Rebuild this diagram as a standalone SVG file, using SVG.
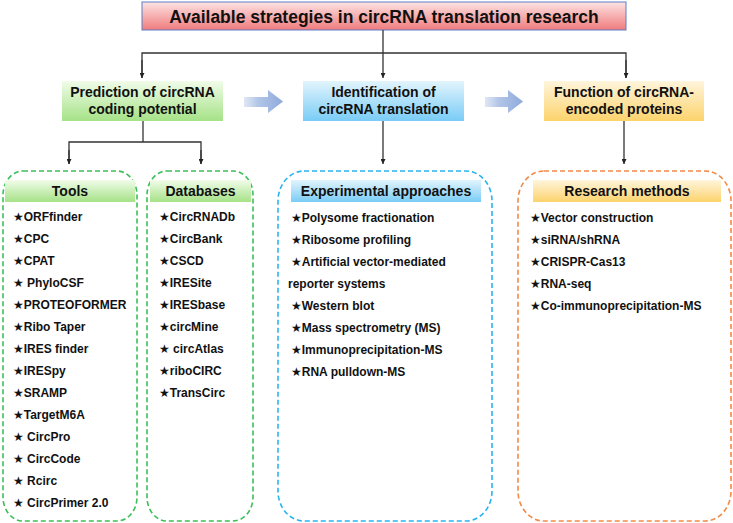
<svg xmlns="http://www.w3.org/2000/svg" width="733" height="523" viewBox="0 0 733 523">
<defs>
<linearGradient id="gTitle" x1="0" y1="0" x2="0" y2="1"><stop offset="0" stop-color="#fde3e3"/><stop offset="1" stop-color="#f07b7d"/></linearGradient>
<linearGradient id="gGreen" x1="0" y1="0" x2="0" y2="1"><stop offset="0" stop-color="#f1fce9"/><stop offset="1" stop-color="#a5e287"/></linearGradient>
<linearGradient id="gBlue" x1="0" y1="0" x2="0" y2="1"><stop offset="0" stop-color="#e2f4fd"/><stop offset="1" stop-color="#79ccf6"/></linearGradient>
<linearGradient id="gOrange" x1="0" y1="0" x2="0" y2="1"><stop offset="0" stop-color="#fff5dc"/><stop offset="1" stop-color="#fcd36c"/></linearGradient>
<linearGradient id="gArrow" x1="0" y1="0" x2="1" y2="0"><stop offset="0" stop-color="#c9d6ee" stop-opacity="0.6"/><stop offset="0.35" stop-color="#b3c6e8"/><stop offset="1" stop-color="#8eaadb"/></linearGradient>
<marker id="ah" viewBox="0 0 10 10" refX="10" refY="5" markerWidth="5" markerHeight="5" markerUnits="userSpaceOnUse" orient="auto"><path d="M0,0 L10,5 L0,10 z" fill="#222"/></marker>
</defs>
<style>
.t{font-family:"Liberation Sans",Arial,"DejaVu Sans",sans-serif;font-weight:bold;fill:#111}
.title{font-size:17.5px}
.mid{font-size:14px}
.hd{font-size:14px}
.it{font-size:12px}
.ln{stroke:#333;stroke-width:1.3;fill:none}
.dg{fill:none;stroke:#3cbf58;stroke-width:1.6;stroke-dasharray:5 3}
.db{fill:none;stroke:#2ab4ee;stroke-width:1.6;stroke-dasharray:5 3}
.do{fill:none;stroke:#f28a48;stroke-width:1.6;stroke-dasharray:5 3}
</style>

<g id="title">
<rect x="142" y="2" width="484" height="28" fill="url(#gTitle)" stroke="#5b7fc7" stroke-width="1"/>
<text class="t title" x="384" y="23" text-anchor="middle">Available strategies in circRNA translation research</text>
</g>

<g id="prediction">
<rect x="62" y="81" width="161" height="40" fill="url(#gGreen)"/>
<text class="t mid" x="142.5" y="97" text-anchor="middle">Prediction of circRNA</text>
<text class="t mid" x="142.5" y="114" text-anchor="middle">coding potential</text>
</g>

<g id="identification">
<rect x="303" y="81" width="161" height="40" fill="url(#gBlue)"/>
<text class="t mid" x="383.5" y="97" text-anchor="middle">Identification of</text>
<text class="t mid" x="383.5" y="114" text-anchor="middle">circRNA translation</text>
</g>

<g id="function">
<rect x="544" y="81" width="160" height="40" fill="url(#gOrange)"/>
<text class="t mid" x="624" y="97" text-anchor="middle">Function of circRNA-</text>
<text class="t mid" x="624" y="114" text-anchor="middle">encoded proteins</text>
</g>

<g id="flow-arrows">
<path d="M244,97 H268 V90 L283,101.5 L268,113 V107 H244 Z" fill="url(#gArrow)"/>
<path d="M485,97 H508 V90 L523,101.5 L508,113 V107 H485 Z" fill="url(#gArrow)"/>
</g>

<g id="tools">
<rect class="dg" x="3" y="171" width="134" height="350" rx="20" ry="24"/>
<rect x="5" y="180" width="130" height="22" fill="url(#gGreen)"/>
<text class="t hd" x="70" y="196" text-anchor="middle">Tools</text>
<text class="t it" x="13" y="221">★ORFfinder</text>
<text class="t it" x="13" y="243">★CPC</text>
<text class="t it" x="13" y="265">★CPAT</text>
<text class="t it" x="13" y="287">★ PhyloCSF</text>
<text class="t it" x="13" y="309">★PROTEOFORMER</text>
<text class="t it" x="13" y="331">★Ribo Taper</text>
<text class="t it" x="13" y="353">★IRES finder</text>
<text class="t it" x="13" y="375">★IRESpy</text>
<text class="t it" x="13" y="397">★SRAMP</text>
<text class="t it" x="13" y="419">★TargetM6A</text>
<text class="t it" x="13" y="441">★ CircPro</text>
<text class="t it" x="13" y="463">★ CircCode</text>
<text class="t it" x="13" y="485">★ Rcirc</text>
<text class="t it" x="13" y="507">★ CircPrimer 2.0</text>
</g>

<g id="databases">
<rect class="dg" x="147" y="171" width="106" height="350" rx="20" ry="24"/>
<rect x="150" y="180" width="101" height="22" fill="url(#gGreen)"/>
<text class="t hd" x="200.5" y="196" text-anchor="middle">Databases</text>
<text class="t it" x="159" y="221">★CircRNADb</text>
<text class="t it" x="159" y="243">★CircBank</text>
<text class="t it" x="159" y="265">★CSCD</text>
<text class="t it" x="159" y="287">★IRESite</text>
<text class="t it" x="159" y="309">★IRESbase</text>
<text class="t it" x="159" y="331">★circMine</text>
<text class="t it" x="159" y="353">★ circAtlas</text>
<text class="t it" x="159" y="375">★riboCIRC</text>
<text class="t it" x="159" y="397">★TransCirc</text>
</g>

<g id="experimental">
<rect class="db" x="278" y="171" width="214" height="350" rx="26" ry="30"/>
<rect x="291" y="180" width="190" height="22" fill="url(#gBlue)"/>
<text class="t hd" x="386" y="196" text-anchor="middle">Experimental approaches</text>
<text class="t it" x="291" y="222">★Polysome fractionation</text>
<text class="t it" x="291" y="244">★Ribosome profiling</text>
<text class="t it" x="291" y="266">★Artificial vector-mediated</text>
<text class="t it" x="288" y="288">reporter systems</text>
<text class="t it" x="291" y="310">★Western blot</text>
<text class="t it" x="291" y="332">★Mass spectrometry (MS)</text>
<text class="t it" x="291" y="354">★Immunoprecipitation-MS</text>
<text class="t it" x="291" y="376">★RNA pulldown-MS</text>
</g>

<g id="research">
<rect class="do" x="518" y="171" width="213" height="350" rx="26" ry="30"/>
<rect x="533" y="180" width="188" height="22" fill="url(#gOrange)"/>
<text class="t hd" x="627" y="196" text-anchor="middle">Research methods</text>
<text class="t it" x="530" y="222">★Vector construction</text>
<text class="t it" x="530" y="244">★siRNA/shRNA</text>
<text class="t it" x="530" y="266">★CRISPR-Cas13</text>
<text class="t it" x="530" y="288">★RNA-seq</text>
<text class="t it" x="530" y="310">★Co-immunoprecipitation-MS</text>
</g>

<g id="connectors">
<path class="ln" d="M383,30 V78" marker-end="url(#ah)"/>
<path class="ln" d="M142,78 V53 H626 V78" />
<path class="ln" d="M142,60 V78" marker-end="url(#ah)"/>
<path class="ln" d="M626,60 V78" marker-end="url(#ah)"/>
<path class="ln" d="M143,121 V142"/>
<path class="ln" d="M69,164 V142 H201 V164"/>
<path class="ln" d="M69,150 V164" marker-end="url(#ah)"/>
<path class="ln" d="M201,150 V164" marker-end="url(#ah)"/>
<path class="ln" d="M383,121 V164" marker-end="url(#ah)"/>
<path class="ln" d="M624,121 V164" marker-end="url(#ah)"/>
</g>
</svg>
